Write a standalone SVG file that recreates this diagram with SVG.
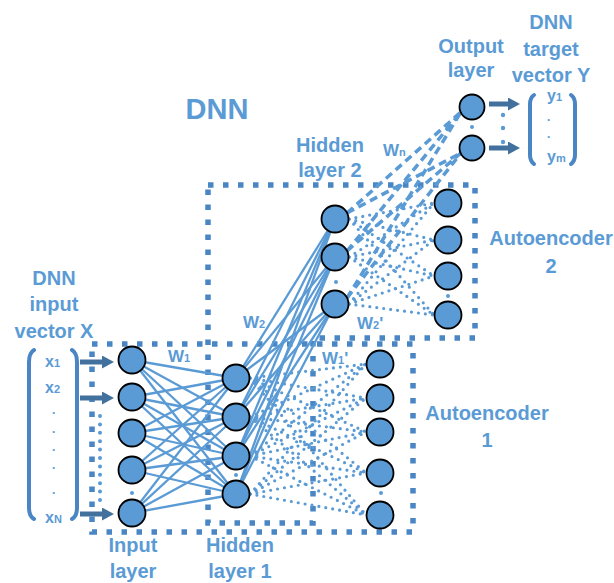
<svg xmlns="http://www.w3.org/2000/svg" width="614" height="583" viewBox="0 0 614 583">
  <defs>
    <style>
      .box { fill: none; stroke: #4a86c3; stroke-width: 5.5; stroke-dasharray: 5.5 9.5; }
      .solid { stroke: #5b9bd5; stroke-width: 2.3; fill: none; }
      .dotted { stroke: #5b9bd5; stroke-width: 3.2; stroke-linecap: round; stroke-dasharray: 0 7; fill: none; }
      .dashed { stroke: #5b9bd5; stroke-width: 3.5; stroke-dasharray: 8 5; fill: none; }
      .node circle { fill: #5b9bd5; stroke: #000; stroke-width: 1.8; }
      .arrow { stroke: #41719c; stroke-width: 5; fill: none; marker-end: url(#head); }
      .bracket { stroke: #4a86c3; stroke-width: 4; fill: none; stroke-linecap: round; }
      .dot { fill: #5b9bd5; }
      .lbl { font-family: "Liberation Sans", Arial, sans-serif; font-weight: bold; fill: #5b9bd5; font-size: 20px; text-anchor: middle; }
      .w { font-family: "Liberation Sans", Arial, sans-serif; font-weight: bold; fill: #5b9bd5; font-size: 17px; }
      .v { font-family: "Liberation Sans", Arial, sans-serif; font-weight: bold; fill: #5b9bd5; font-size: 16px; }
      .ell { font-family: "Liberation Sans", Arial, sans-serif; font-weight: bold; fill: #5b9bd5; font-size: 12px; }
      .sub { font-size: 11px; }
    </style>
    <marker id="head" markerUnits="userSpaceOnUse" markerWidth="12" markerHeight="13" refX="4" refY="6.5" orient="auto">
      <path d="M0,0 L12,6.5 L0,13 Z" fill="#41719c"/>
    </marker>
  </defs>

  <!-- autoencoder boundaries -->
  <g id="boxes">
    <rect class="box" x="92" y="344" width="321" height="188"/>
    <path class="box" d="M208 185 H475 V338 H313 V523 H208 Z"/>
  </g>

  <!-- connectors -->
  <g id="connectors">
    <!-- input layer to hidden layer 1 -->
    <g class="solid">
      <line x1="132" y1="360" x2="236" y2="378"/><line x1="132" y1="360" x2="236" y2="417"/><line x1="132" y1="360" x2="236" y2="456"/><line x1="132" y1="360" x2="236" y2="494"/>
      <line x1="132" y1="397" x2="236" y2="378"/><line x1="132" y1="397" x2="236" y2="417"/><line x1="132" y1="397" x2="236" y2="456"/><line x1="132" y1="397" x2="236" y2="494"/>
      <line x1="132" y1="433" x2="236" y2="378"/><line x1="132" y1="433" x2="236" y2="417"/><line x1="132" y1="433" x2="236" y2="456"/><line x1="132" y1="433" x2="236" y2="494"/>
      <line x1="132" y1="470" x2="236" y2="378"/><line x1="132" y1="470" x2="236" y2="417"/><line x1="132" y1="470" x2="236" y2="456"/><line x1="132" y1="470" x2="236" y2="494"/>
      <line x1="132" y1="513" x2="236" y2="378"/><line x1="132" y1="513" x2="236" y2="417"/><line x1="132" y1="513" x2="236" y2="456"/><line x1="132" y1="513" x2="236" y2="494"/>
    </g>
    <!-- hidden layer 1 to hidden layer 2 -->
    <g class="solid">
      <line x1="236" y1="378" x2="335" y2="219"/><line x1="236" y1="378" x2="335" y2="257"/><line x1="236" y1="378" x2="335" y2="304"/>
      <line x1="236" y1="417" x2="335" y2="219"/><line x1="236" y1="417" x2="335" y2="257"/><line x1="236" y1="417" x2="335" y2="304"/>
      <line x1="236" y1="456" x2="335" y2="219"/><line x1="236" y1="456" x2="335" y2="257"/><line x1="236" y1="456" x2="335" y2="304"/>
      <line x1="236" y1="494" x2="335" y2="219"/><line x1="236" y1="494" x2="335" y2="257"/><line x1="236" y1="494" x2="335" y2="304"/>
    </g>
    <!-- hidden layer 1 to reconstruction (autoencoder 1) -->
    <g class="dotted">
      <line x1="250" y1="378" x2="366" y2="364"/><line x1="250" y1="378" x2="366" y2="398"/><line x1="250" y1="378" x2="366" y2="432"/><line x1="250" y1="378" x2="366" y2="473"/><line x1="250" y1="378" x2="366" y2="515"/>
      <line x1="250" y1="417" x2="366" y2="364"/><line x1="250" y1="417" x2="366" y2="398"/><line x1="250" y1="417" x2="366" y2="432"/><line x1="250" y1="417" x2="366" y2="473"/><line x1="250" y1="417" x2="366" y2="515"/>
      <line x1="250" y1="456" x2="366" y2="364"/><line x1="250" y1="456" x2="366" y2="398"/><line x1="250" y1="456" x2="366" y2="432"/><line x1="250" y1="456" x2="366" y2="473"/><line x1="250" y1="456" x2="366" y2="515"/>
      <line x1="250" y1="494" x2="366" y2="364"/><line x1="250" y1="494" x2="366" y2="398"/><line x1="250" y1="494" x2="366" y2="432"/><line x1="250" y1="494" x2="366" y2="473"/><line x1="250" y1="494" x2="366" y2="515"/>
    </g>
    <!-- hidden layer 2 to reconstruction (autoencoder 2) -->
    <g class="dotted">
      <line x1="349" y1="219" x2="434" y2="203"/><line x1="349" y1="219" x2="434" y2="240"/><line x1="349" y1="219" x2="434" y2="276"/><line x1="349" y1="219" x2="434" y2="315"/>
      <line x1="349" y1="257" x2="434" y2="203"/><line x1="349" y1="257" x2="434" y2="240"/><line x1="349" y1="257" x2="434" y2="276"/><line x1="349" y1="257" x2="434" y2="315"/>
      <line x1="349" y1="304" x2="434" y2="203"/><line x1="349" y1="304" x2="434" y2="240"/><line x1="349" y1="304" x2="434" y2="276"/><line x1="349" y1="304" x2="434" y2="315"/>
    </g>
    <!-- hidden layer 2 to output layer -->
    <g class="dashed">
      <line x1="347" y1="213" x2="461" y2="112"/><line x1="347" y1="213" x2="461" y2="153"/>
      <line x1="347" y1="251" x2="461" y2="112"/><line x1="347" y1="251" x2="461" y2="153"/>
      <line x1="347" y1="298" x2="461" y2="112"/><line x1="347" y1="298" x2="461" y2="153"/>
    </g>
    <!-- input vector to input layer -->
    <line class="arrow" x1="80" y1="362" x2="106" y2="362"/>
    <line class="arrow" x1="80" y1="398" x2="106" y2="398"/>
    <line class="arrow" x1="80" y1="514" x2="106" y2="514"/>
    <line x1="100" y1="416" x2="100" y2="500" stroke="#5b9bd5" stroke-width="4" stroke-linecap="round" stroke-dasharray="0 8.4"/>
    <!-- output layer to target vector -->
    <line class="arrow" x1="489" y1="104" x2="512" y2="104"/>
    <line class="arrow" x1="489" y1="148" x2="512" y2="148"/>
    <circle class="dot" cx="503" cy="115" r="2.2"/>
    <circle class="dot" cx="503" cy="128" r="2.2"/>
    <circle class="dot" cx="503" cy="142" r="2.2"/>
  </g>

  <!-- input layer -->
  <g id="input-layer" class="node">
    <circle cx="132" cy="360" r="13.5"/>
    <circle cx="132" cy="397" r="13.5"/>
    <circle cx="132" cy="433" r="13.5"/>
    <circle cx="132" cy="470" r="13.5"/>
    <circle cx="132" cy="513" r="13.5"/>
    <circle class="dot" cx="132" cy="493" r="2" style="stroke:none"/>
  </g>
  <!-- hidden layer 1 -->
  <g id="hidden-layer-1" class="node">
    <circle cx="236" cy="378" r="13.5"/>
    <circle cx="236" cy="417" r="13.5"/>
    <circle cx="236" cy="456" r="13.5"/>
    <circle cx="236" cy="494" r="13.5"/>
    <circle class="dot" cx="236" cy="475" r="2" style="stroke:none"/>
  </g>
  <!-- reconstruction layer of autoencoder 1 -->
  <g id="ae1-output" class="node">
    <circle cx="380" cy="364" r="13.5"/>
    <circle cx="380" cy="398" r="13.5"/>
    <circle cx="380" cy="432" r="13.5"/>
    <circle cx="380" cy="473" r="13.5"/>
    <circle cx="380" cy="515" r="13.5"/>
    <circle class="dot" cx="381" cy="493" r="2" style="stroke:none"/>
  </g>
  <!-- hidden layer 2 -->
  <g id="hidden-layer-2" class="node">
    <circle cx="335" cy="219" r="13.5"/>
    <circle cx="335" cy="257" r="13.5"/>
    <circle cx="335" cy="304" r="13.5"/>
    <circle class="dot" cx="336" cy="282" r="2" style="stroke:none"/>
  </g>
  <!-- reconstruction layer of autoencoder 2 -->
  <g id="ae2-output" class="node">
    <circle cx="448" cy="203" r="13.5"/>
    <circle cx="448" cy="240" r="13.5"/>
    <circle cx="448" cy="276" r="13.5"/>
    <circle cx="448" cy="315" r="13.5"/>
    <circle class="dot" cx="448" cy="296" r="2" style="stroke:none"/>
  </g>
  <!-- output layer -->
  <g id="output-layer" class="node">
    <circle cx="472" cy="107" r="12.5"/>
    <circle cx="472" cy="148" r="12.5"/>
    <circle class="dot" cx="472" cy="127" r="2" style="stroke:none"/>
  </g>

  <!-- input vector X -->
  <g id="input-vector">
    <path class="bracket" d="M34 350 Q29 353 29 362 V508 Q29 516 34 519"/>
    <path class="bracket" d="M72 350 Q77 353 77 362 V508 Q77 516 72 519"/>
    <text class="v" x="45" y="367">x<tspan class="sub">1</tspan></text>
    <text class="v" x="45" y="393">x<tspan class="sub">2</tspan></text>
    <text class="v" x="45" y="523">x<tspan class="sub">N</tspan></text>
    <text class="ell" x="52" y="414">.</text>
    <text class="ell" x="52" y="433">.</text>
    <text class="ell" x="52" y="451">.</text>
    <text class="ell" x="52" y="469">.</text>
    <text class="ell" x="52" y="494">.</text>
  </g>

  <!-- target vector Y -->
  <g id="target-vector">
    <path class="bracket" d="M534 95 Q530 98 530 104 V155 Q530 161 534 164"/>
    <path class="bracket" d="M571 95 Q575 98 575 104 V155 Q575 161 571 164"/>
    <text class="v" x="547" y="101">y<tspan class="sub">1</tspan></text>
    <text class="v" x="547" y="162">y<tspan class="sub">m</tspan></text>
    <text class="ell" x="547" y="121">.</text>
    <text class="ell" x="547" y="138">.</text>
  </g>

  <!-- labels -->
  <g id="labels">
    <text class="lbl" x="217" y="119" style="font-size:29px">DNN</text>
    <text class="lbl" x="471" y="53">Output</text>
    <text class="lbl" x="471" y="77">layer</text>
    <text class="lbl" x="551" y="29">DNN</text>
    <text class="lbl" x="551" y="56">target</text>
    <text class="lbl" x="551" y="82">vector Y</text>
    <text class="lbl" x="330" y="152">Hidden</text>
    <text class="lbl" x="330" y="177">layer 2</text>
    <text class="lbl" x="551" y="245">Autoencoder</text>
    <text class="lbl" x="551" y="273">2</text>
    <text class="lbl" x="487" y="420">Autoencoder</text>
    <text class="lbl" x="487" y="447">1</text>
    <text class="lbl" x="54" y="285">DNN</text>
    <text class="lbl" x="54" y="311">input</text>
    <text class="lbl" x="54" y="338">vector X</text>
    <text class="lbl" x="133" y="552">Input</text>
    <text class="lbl" x="133" y="578">layer</text>
    <text class="lbl" x="240" y="552">Hidden</text>
    <text class="lbl" x="240" y="578">layer 1</text>
    <text class="w" x="383" y="156">W<tspan class="sub">n</tspan></text>
    <text class="w" x="243" y="328">W<tspan class="sub">2</tspan></text>
    <text class="w" x="357" y="329">W<tspan class="sub">2</tspan>'</text>
    <text class="w" x="168" y="362">W<tspan class="sub">1</tspan></text>
    <text class="w" x="322" y="364">W<tspan class="sub">1</tspan>'</text>
  </g>
</svg>
